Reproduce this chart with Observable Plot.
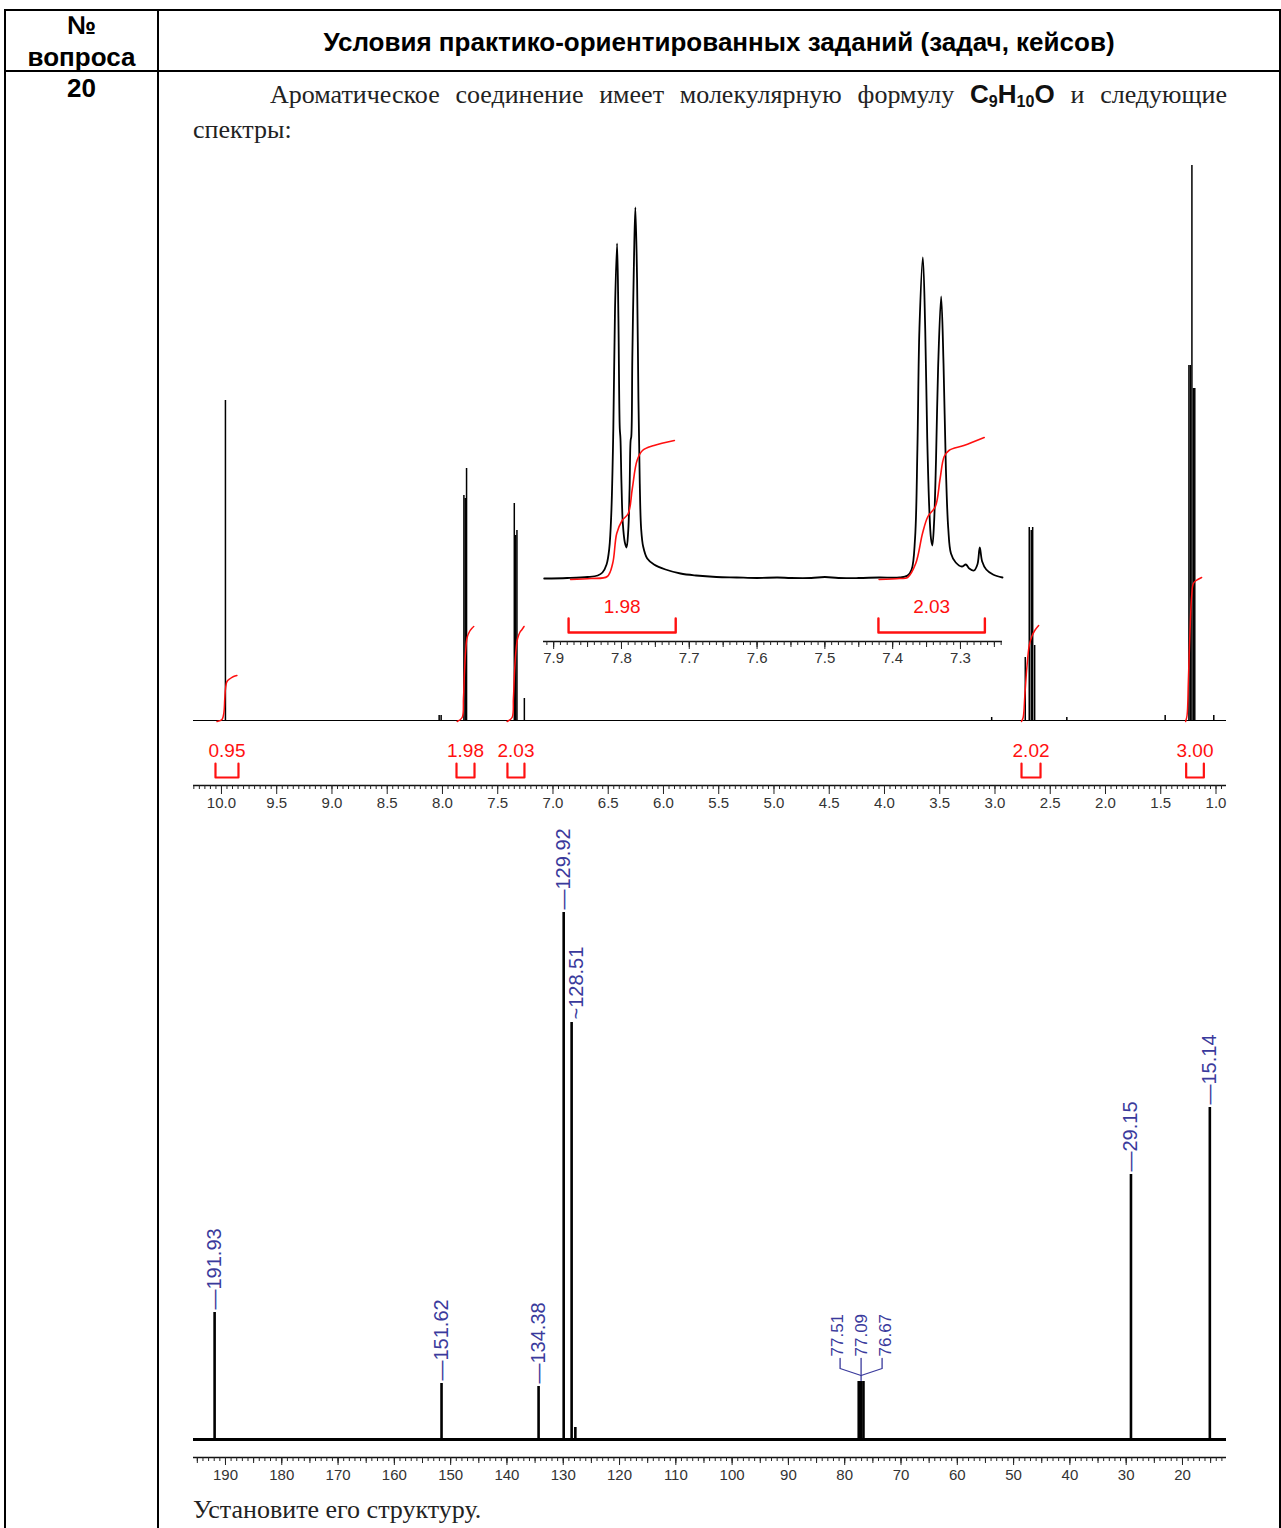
<!DOCTYPE html>
<html><head><meta charset="utf-8">
<script src="https://cdn.jsdelivr.net/npm/d3@7"></script>
<script src="https://cdn.jsdelivr.net/npm/@observablehq/plot@0.6"></script>
<style>
body{margin:0;background:#fff;}
#page{position:relative;width:1281px;height:1528px;overflow:hidden;background:#fff;font-family:"Liberation Sans",Arial,sans-serif;color:#000;}
.ln{position:absolute;background:#000;}
.abs{position:absolute;}
.hdr{font-weight:bold;font-size:26px;line-height:32px;text-align:center;}
.serif{font-family:"Liberation Serif","Times New Roman",serif;font-size:26px;line-height:36px;color:#222;}
.formula{font-family:"Liberation Sans",Arial,sans-serif;font-weight:bold;font-size:26px;color:#111;}
.formula sub{font-size:0.62em;vertical-align:-0.25em;line-height:0;}
.plotbox{position:absolute;}
.plotbox svg{overflow:visible;}
</style></head>
<body>
<div id="page">
  <div class="ln" style="left:4px;top:9px;width:1277px;height:2px;"></div>
  <div class="ln" style="left:4px;top:70px;width:1277px;height:2px;"></div>
  <div class="ln" style="left:4px;top:9px;width:2px;height:1519px;"></div>
  <div class="ln" style="left:157px;top:9px;width:2px;height:1519px;"></div>
  <div class="ln" style="left:1279px;top:9px;width:2px;height:1519px;"></div>

  <div class="abs hdr" style="left:6px;top:9px;width:151px;">№<br>вопроса</div>
  <div class="abs hdr" style="left:159px;top:26px;width:1120px;">Условия практико-ориентированных заданий (задач, кейсов)</div>
  <div class="abs hdr" style="left:6px;top:72px;width:151px;">20</div>

  <div class="abs serif" style="left:193px;top:76px;width:1034px;text-indent:77px;text-align:justify;text-align-last:justify;">Ароматическое соединение имеет молекулярную формулу <span class="formula">C<sub>9</sub>H<sub>10</sub>O</span> и следующие</div>
  <div class="abs serif" style="left:193px;top:112px;">спектры:</div>
  <div class="abs serif" style="left:193px;top:1492px;">Установите его структуру.</div>

  <div id="h1" class="plotbox" style="left:0;top:150px;"></div>
  <div id="inset" class="plotbox" style="left:540px;top:190px;"></div>
  <div id="c13" class="plotbox" style="left:0;top:800px;"></div>
</div>
<script>
// ---------- 1H NMR overview ----------
const h1Domain = [10.253, 0.905];
const h1MajorTicks = [10.0, 9.5, 9.0, 8.5, 8.0, 7.5, 7.0, 6.5, 6.0, 5.5, 5.0, 4.5, 4.0, 3.5, 3.0, 2.5, 2.0, 1.5, 1.0];
const h1PeakPpm = [9.964, 8.030, 8.012, 7.806, 7.794, 7.782, 7.350, 7.338, 7.326, 7.259,
  3.03, 2.726, 2.690, 2.672, 2.659, 2.641, 2.35, 1.46, 1.245, 1.232, 1.218, 1.204, 1.192, 1.02];
const h1PeakInt = [320, 5, 5, 225, 222, 252, 217, 185, 190, 22,
  3, 63, 193, 190, 193, 75, 3, 5, 355, 355, 555, 332, 332, 5];
const h1IntLabels = ["0.95", "1.98", "2.03", "2.02", "3.00"];
const h1IntFrom = [10.054, 7.873, 7.412, 2.760, 1.270];
const h1IntTo = [9.846, 7.710, 7.258, 2.588, 1.110];
const h1IntCurves = [
  [[10.04,-1],[9.995,1],[9.978,8],[9.97,22],[9.962,33],[9.95,39],[9.92,42],[9.89,44],[9.86,45]],
  [[7.867,-1],[7.822,3],[7.81,22],[7.80,50],[7.79,70],[7.777,83],[7.755,89],[7.735,92],[7.717,94]],
  [[7.415,-1],[7.37,3],[7.358,22],[7.347,50],[7.335,70],[7.32,82],[7.30,88],[7.28,91],[7.262,94]],
  [[2.76,-1],[2.745,3],[2.73,25],[2.71,55],[2.69,75],[2.667,84],[2.64,90],[2.605,95]],
  [[1.275,-1],[1.262,5],[1.25,40],[1.235,90],[1.22,125],[1.205,137],[1.18,140],[1.13,143]]
];

// ---------- 1H inset (7.9 - 7.25 ppm) ----------
const insetDomain = [7.915, 7.238];
const insetMajorTicks = [7.9, 7.8, 7.7, 7.6, 7.5, 7.4, 7.3];
const insetSpectrum = [
  [7.914,0],[7.88,0.5],[7.85,1.5],[7.835,3],[7.828,6],[7.822,14],[7.818,30],[7.815,65],[7.812,150],
  [7.8095,270],[7.8065,335],[7.8045,260],[7.8025,150],[7.8015,140],[7.800,95],[7.798,55],[7.795,36],
  [7.7925,31],[7.790,48],[7.788,90],[7.7865,138],[7.7855,142],[7.784,220],[7.7815,320],[7.7795,371],
  [7.777,300],[7.775,180],[7.773,95],[7.771,50],[7.768,32],[7.762,20],[7.752,14],[7.735,9],[7.713,5],
  [7.69,3],[7.66,1.5],[7.63,1],[7.60,0.5],[7.57,1],[7.55,0.5],[7.52,0.5],[7.50,1.5],[7.48,0.5],
  [7.45,0.5],[7.42,1],[7.39,1],[7.378,3],[7.372,9],[7.367,40],[7.3635,130],[7.3605,250],[7.3555,321],
  [7.352,250],[7.349,140],[7.346,70],[7.3435,40],[7.3415,33],[7.339,55],[7.336,120],[7.333,210],
  [7.3285,282],[7.325,215],[7.3215,110],[7.318,50],[7.314,25],[7.307,16],[7.298,12],[7.292,14],
  [7.287,10],[7.280,8],[7.275,14],[7.2715,31],[7.268,17],[7.262,9],[7.252,4],[7.238,1]
];
const insetIntLabels = ["1.98", "2.03"];
const insetIntFrom = [7.878, 7.421];
const insetIntTo = [7.720, 7.264];
const insetIntCurves = [
  [[7.875,-1],[7.845,0],[7.821,2],[7.813,15],[7.807,45],[7.799,58],[7.790,65],[7.784,90],[7.777,118],[7.769,128],[7.752,133],[7.722,138]],
  [[7.420,-1],[7.390,0],[7.378,1],[7.366,15],[7.356,45],[7.348,62],[7.337,72],[7.330,100],[7.324,122],[7.317,128],[7.295,133],[7.265,141]]
];

// ---------- 13C NMR ----------
const c13Domain = [195.68, 12.18];
const c13MajorTicks = [190, 180, 170, 160, 150, 140, 130, 120, 110, 100, 90, 80, 70, 60, 50, 40, 30, 20];
const c13PeakPpm = [191.93, 151.62, 134.38, 129.92, 128.51, 127.85, 77.51, 77.09, 76.67, 29.15, 15.14];
const c13PeakInt = [127, 56, 53, 527, 417, 12, 58, 58, 58, 265, 332];
const c13Labels = ["191.93", "151.62", "134.38", "129.92", "", "", "", "", "", "29.15", "15.14"];
const c13ShiftedLabel = {ppm: 128.51, h: 417, text: "128.51"};
const c13Triplet = ["77.51", "77.09", "76.67"];
const c13TripletCenter = 77.09;
const c13TripletH = 58;

const FONT = "Liberation Sans, Arial, sans-serif";
const RED = "#ff1010";
const BLUE = "#3a3a9c";

function bracket(labels, from, to, yb, yt) {
  return labels.flatMap((l, i) => [
    {id: l, x: from[i], y: yt}, {id: l, x: from[i], y: yb},
    {id: l, x: to[i], y: yb}, {id: l, x: to[i], y: yt}]);
}
function curves(list) {
  return list.flatMap((c, i) => c.map(([x, y]) => ({id: i, x, y})));
}
const step = (a, b, s) => d3.range(Math.ceil(a / s - 1e-9), Math.floor(b / s + 1e-9) + 1).map(i => +(i * s).toFixed(3));

// ---- 1H main plot ----
const h1Peaks = h1PeakPpm.map((p, i) => ({ppm: p, h: h1PeakInt[i]}));
const h1 = Plot.plot({
  width: 1281, height: 680, marginLeft: 193, marginRight: 55, marginTop: 0, marginBottom: 45,
  x: {domain: h1Domain, label: null},
  y: {domain: [-65, 570], axis: null},
  style: {background: "transparent", fontFamily: FONT, fontSize: "15px", overflow: "visible"},
  marks: [
    Plot.ruleY([0], {stroke: "#000", strokeWidth: 1.2}),
    Plot.ruleX(h1Peaks, {x: "ppm", y1: 0, y2: "h", stroke: "#000", strokeWidth: 1.5}),
    Plot.line(curves(h1IntCurves), {x: "x", y: "y", z: "id", stroke: RED, strokeWidth: 1.5, curve: "catmull-rom"}),
    Plot.line(bracket(h1IntLabels, h1IntFrom, h1IntTo, -57, -43), {x: "x", y: "y", z: "id", stroke: RED, strokeWidth: 2.2}),
    Plot.text(h1IntLabels, {x: (d, i) => (h1IntFrom[i] + h1IntTo[i]) / 2, y: -30, text: d => d, fill: RED, fontSize: 19}),
    Plot.ruleY([-65], {stroke: "#111", strokeWidth: 1.6}),
    Plot.axisX({ticks: step(0.95, 10.25, 0.05), tickSize: 4, tickFormat: () => "", stroke: "#222", label: null}),
    Plot.axisX({ticks: h1MajorTicks, tickSize: 9, tickPadding: 3, tickFormat: d => d.toFixed(1), stroke: "#222", fill: "#333", fontSize: 15, label: null})
  ]
});
document.getElementById("h1").appendChild(h1);

// ---- inset ----
const inset = Plot.plot({
  width: 470, height: 490, marginLeft: 3, marginRight: 8, marginTop: 0, marginBottom: 39,
  x: {domain: insetDomain, label: null},
  y: {domain: [-63, 388], axis: null},
  style: {background: "transparent", fontFamily: FONT, fontSize: "15px", overflow: "visible"},
  marks: [
    Plot.line(insetSpectrum, {x: d => d[0], y: d => d[1], stroke: "#000", strokeWidth: 1.8, curve: "catmull-rom"}),
    Plot.line(curves(insetIntCurves), {x: "x", y: "y", z: "id", stroke: RED, strokeWidth: 1.6, curve: "catmull-rom"}),
    Plot.line(bracket(insetIntLabels, insetIntFrom, insetIntTo, -54, -40), {x: "x", y: "y", z: "id", stroke: RED, strokeWidth: 2.4}),
    Plot.text(insetIntLabels, {x: (d, i) => (insetIntFrom[i] + insetIntTo[i]) / 2, y: -28, text: d => d, fill: RED, fontSize: 19}),
    Plot.ruleY([-63], {stroke: "#111", strokeWidth: 1.6}),
    Plot.axisX({ticks: step(7.24, 7.91, 0.01), tickSize: 4, tickFormat: () => "", stroke: "#222", label: null}),
    Plot.axisX({ticks: step(7.25, 7.9, 0.05), tickSize: 6, tickFormat: () => "", stroke: "#222", label: null}),
    Plot.axisX({ticks: insetMajorTicks, tickSize: 8, tickPadding: 3, tickFormat: d => d.toFixed(1), stroke: "#222", fill: "#333", fontSize: 15, label: null})
  ]
});
document.getElementById("inset").appendChild(inset);

// ---- 13C plot ----
const c13Peaks = c13PeakPpm.map((p, i) => ({ppm: p, h: c13PeakInt[i], label: c13Labels[i]}));
const c13W = 1281, c13ML = 193, c13MR = 55;
const pxPerPpm = (c13W - c13ML - c13MR) / (c13Domain[0] - c13Domain[1]);
const tripLabelOff = [-24, 0, 24];
const tripLinkOff = [-21, 0, 21];
const tripLinks = tripLinkOff.flatMap((o, i) => {
  const xo = c13TripletCenter - o / pxPerPpm;
  return o === 0
    ? [{id: i, x: xo, y: 81}, {id: i, x: c13TripletCenter, y: c13TripletH + 1}]
    : [{id: i, x: xo, y: 81}, {id: i, x: xo, y: 71}, {id: i, x: c13TripletCenter, y: 64}];
});
const c13 = Plot.plot({
  width: c13W, height: 690, marginLeft: c13ML, marginRight: c13MR, marginTop: 0, marginBottom: 33,
  x: {domain: c13Domain, label: null},
  y: {domain: [-18, 639], axis: null},
  style: {background: "transparent", fontFamily: FONT, fontSize: "15px", overflow: "visible"},
  marks: [
    Plot.ruleY([0], {stroke: "#000", strokeWidth: 2.8}),
    Plot.ruleX(c13Peaks, {x: "ppm", y1: 0, y2: "h", stroke: "#000", strokeWidth: 2.6}),
    Plot.text(c13Peaks.filter(d => d.label), {x: "ppm", y: "h", text: d => "\u2014" + d.label, rotate: -90, textAnchor: "start", dy: -3, fill: BLUE, fontSize: 20}),
    Plot.text([c13ShiftedLabel], {x: "ppm", y: "h", text: d => "~" + d.text, rotate: -90, textAnchor: "start", dy: -3, dx: 5, fill: BLUE, fontSize: 20}),
    ...c13Triplet.map((t, i) => Plot.text([t], {x: c13TripletCenter, y: 83, text: d => d, rotate: -90, textAnchor: "start", dx: tripLabelOff[i], fill: BLUE, fontSize: 17})),
    Plot.line(tripLinks, {x: "x", y: "y", z: "id", stroke: BLUE, strokeWidth: 1.3}),
    Plot.ruleY([-18], {stroke: "#111", strokeWidth: 1.6}),
    Plot.axisX({ticks: step(13, 195, 1), tickSize: 4, tickFormat: () => "", stroke: "#222", label: null}),
    Plot.axisX({ticks: step(15, 195, 5), tickSize: 6, tickFormat: () => "", stroke: "#222", label: null}),
    Plot.axisX({ticks: c13MajorTicks, tickSize: 8, tickPadding: 4, tickFormat: d => String(d), stroke: "#222", fill: "#333", fontSize: 15, label: null})
  ]
});
document.getElementById("c13").appendChild(c13);
</script>
</body></html>
